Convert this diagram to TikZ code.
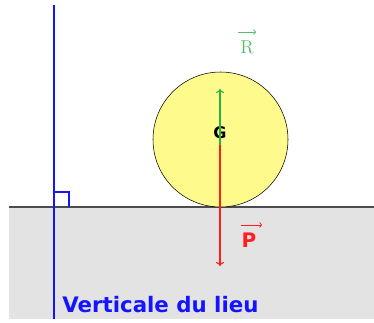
\documentclass[tikz,border=0pt]{standalone}
\usepackage{fontspec}
\newfontfamily\comicfont{DejaVu Sans}
\usetikzlibrary{arrows.meta}
\definecolor{solgris}{RGB}{227,227,227}
\definecolor{bouleJaune}{RGB}{255,250,140}
\definecolor{vertR}{RGB}{40,175,70}
\definecolor{bleuV}{RGB}{20,20,255}
\definecolor{rougeP}{RGB}{255,30,30}
\begin{document}
\begin{tikzpicture}[x=0.75pt,y=-0.75pt,
  vecteur/.style={line width=0.8pt,-{To[length=3pt,width=6pt]}},
  fleche/.style={line width=0.6pt,-{To[length=2pt,width=4pt]}},
  lbl/.style={inner sep=0pt}]
\useasboundingbox (0,0) rectangle (374,322);
\fill[solgris] (9,207) rectangle (374,319);
\draw[line width=1.5pt,black!70] (9,207) -- (374,207);
\draw[bleuV,line width=1.2pt] (54,5) -- (54,319);
\draw[bleuV,line width=1pt] (54,192) -- (69,192) -- (69,207);
\node[circle,draw,fill=bouleJaune,minimum size=135*0.75pt,inner sep=0pt] (boule) at (220.5,139.5) {};
\node[lbl,font=\comicfont\bfseries\fontsize{12}{14}\selectfont] (G) at (220,133) {G};
\coordinate (contact) at (220,206);
\coordinate (hautR) at (220,89);
\coordinate (basP) at (220,266);
\draw[vecteur,vertR] (contact) -- (hautR);
\draw[vecteur,rougeP] (220,145) -- (basP);
% labels des vecteurs
\node[lbl,text=vertR!80,font=\fontsize{14}{16}\selectfont] (R) at (247,47) {R};
\draw[fleche,vertR!80] (238,32) -- (256,32);
\node[lbl,text=rougeP,font=\comicfont\bfseries\fontsize{15}{17}\selectfont] (P) at (249,240) {P};
\draw[fleche,rougeP] (241,225) -- (262,225);
\node[lbl,anchor=base west,text=bleuV,font=\comicfont\bfseries\fontsize{16}{18}\selectfont] (verticale) at (62,312) {Verticale du lieu};
\end{tikzpicture}
\end{document}
